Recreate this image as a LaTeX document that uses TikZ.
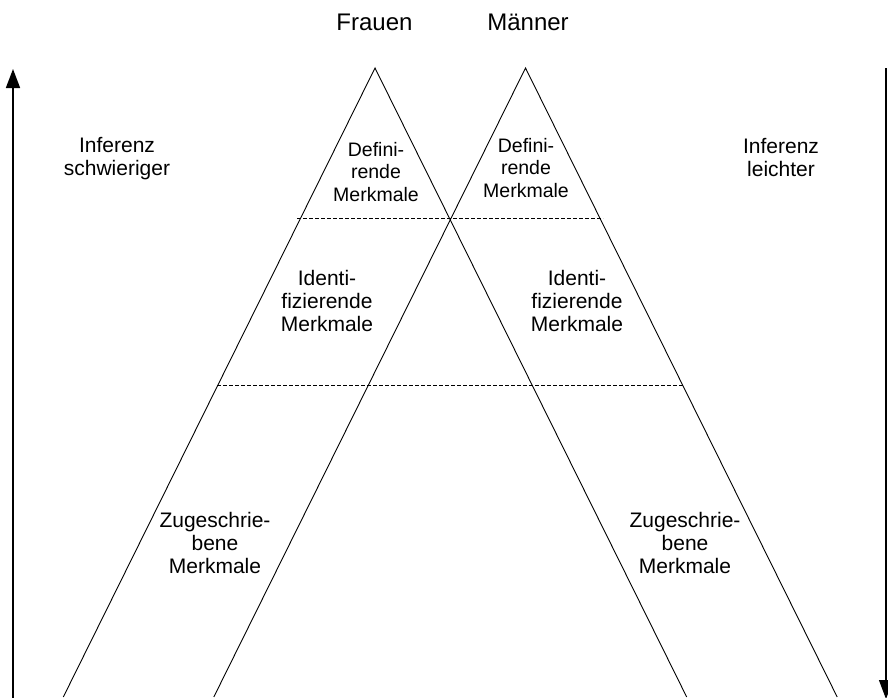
\documentclass[tikz,border=0pt]{standalone}
\usepackage{fontspec}
\setmainfont{Liberation Sans}
\usetikzlibrary{arrows.meta}
\begin{document}
\begin{tikzpicture}[x=1pt,y=-1pt,
  leg/.style={line width=0.9pt},
  level/.style={line width=0.8pt,dash pattern=on 4pt off 2pt},
  axis/.style={-{Triangle[length=19pt,width=14pt]}},
  title/.style={font=\fontsize{24}{27}\selectfont,anchor=base,inner sep=0pt},
  side/.style={font=\fontsize{21}{23}\selectfont,align=center,inner sep=0pt},
  region/.style={font=\fontsize{21}{23}\selectfont,align=center,inner sep=0pt},
  small/.style={font=\fontsize{19.5}{22.5}\selectfont,align=center,inner sep=0pt}]
\useasboundingbox (0,0) rectangle (888,697);
% apexes and base points
\coordinate (fa) at (375,68);
\coordinate (ma) at (525.5,68);
\coordinate (fl) at (63.3,697);
\coordinate (fr) at (686.7,697);
\coordinate (ml) at (213.8,697);
\coordinate (mr) at (837.2,697);
\draw[leg] (fl) -- (fa) -- (fr);
\draw[leg] (ml) -- (ma) -- (mr);
% level lines
\coordinate (u1) at (297,218);
\coordinate (u2) at (603,218);
\coordinate (l1) at (217,385);
\coordinate (l2) at (683,385);
\draw[level] (u1) -- (u2);
\draw[level] (l1) -- (l2);
% axes
\coordinate (lb) at (13,699);
\coordinate (lt) at (13,69);
\coordinate (rt) at (886,68);
\coordinate (rb) at (886,699);
\draw[axis,line width=1.6pt] (lb) -- (lt);
\draw[axis,line width=1.2pt] (rt) -- (rb);
% titles
\node[title] (frauen) at (374.5,30) {Frauen};
\node[title] (maenner) at (528,30) {Männer};
% side labels
\node[side] (schwer) at (117,159) {Inferenz\\schwieriger};
\node[side] (leicht) at (781,157) {Inferenz\\leichter};
% region labels
\node[small] (defl) at (376,172) {Defini-\\rende\\Merkmale};
\node[small] (defr) at (526,168) {Defini-\\rende\\Merkmale};
\node[region] (idl) at (327,300.5) {Identi-\\fizierende\\Merkmale};
\node[region] (idr) at (577,300.5) {Identi-\\fizierende\\Merkmale};
\node[region] (zul) at (215,543) {Zugeschrie-\\bene\\Merkmale};
\node[region] (zur) at (685,543) {Zugeschrie-\\bene\\Merkmale};
\end{tikzpicture}
\end{document}
